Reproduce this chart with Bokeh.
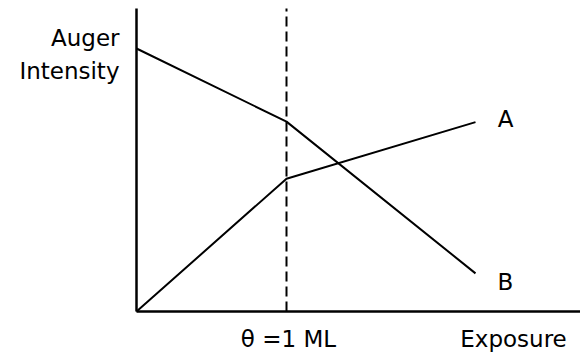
from bokeh.plotting import figure
from bokeh.embed import file_html
from bokeh.resources import INLINE
from bokeh.core.properties import value

# Exposure in monolayers (ML) and relative Auger intensity
exposure = [0.0, 1.0, 2.26]
signal_a = [0.0, 0.505, 0.72]   # adsorbate signal (A)
signal_b = [1.0, 0.722, 0.145]  # substrate signal (B)
monolayer = 1.0
y_top = 1.152
x_right = 2.96

FONT = value("DejaVu Sans")
FS = "23px"

p = figure(width=580, height=357, output_backend="svg", toolbar_location=None,
           x_range=(-0.9067, x_right), y_range=(-0.1749, 1.1825),
           x_axis_location=None, y_axis_location=None, min_border=0)
p.grid.visible = False
p.outline_line_color = None
p.background_fill_color = "white"
p.border_fill_color = "white"

# axes drawn as plain lines through the origin
p.line([0, 0], [0, y_top], line_color="black", line_width=2.5)
p.line([0, x_right], [0, 0], line_color="black", line_width=2.5)

# one-monolayer marker
p.line([monolayer, monolayer], [0, y_top], line_color="black", line_width=2,
       line_dash="10 5")

# the two signals
p.line(exposure, signal_a, line_color="black", line_width=2)
p.line(exposure, signal_b, line_color="black", line_width=2)

# curve labels at the right end of each line
p.text(x=[exposure[-1]] * 2, y=[signal_a[-1], signal_b[-1]], text=["A", "B"],
       x_offset=30, y_offset=[-3, 9], text_font=FONT, text_font_size=FS,
       text_align="center", text_baseline="middle", text_color="black")

# axis titles
p.text(x=[0, 0], y=[y_top, y_top], text=["Auger", "Intensity"],
       x_offset=-17, y_offset=[29, 62], text_font=FONT, text_font_size=FS,
       text_align="right", text_baseline="middle", text_color="black")
p.text(x=[monolayer], y=[0], text=["\u03b8 =1 ML"], x_offset=2, y_offset=27,
       text_font=FONT, text_font_size=FS, text_align="center",
       text_baseline="middle", text_color="black")
p.text(x=[x_right], y=[0], text=["Exposure"], x_offset=-67, y_offset=27,
       text_font=FONT, text_font_size=FS, text_align="center",
       text_baseline="middle", text_color="black")

open("out.html", "w").write(file_html(p, INLINE))
